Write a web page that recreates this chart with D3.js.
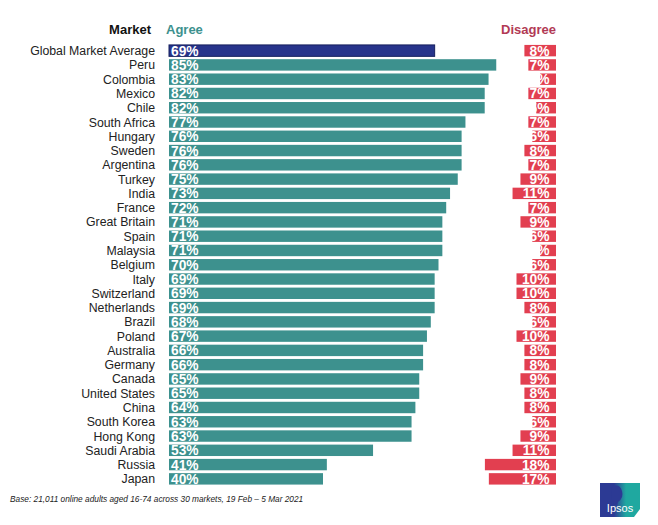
<!DOCTYPE html>
<html><head><meta charset="utf-8">
<script src="https://cdn.jsdelivr.net/npm/d3@7"></script>
<style>body{margin:0;background:#fff;}svg{display:block;font-family:Arial,"Liberation Sans",sans-serif;}</style>
</head><body>
<svg id="c" width="658" height="525"></svg>
<script>
const markets = ["Global Market Average","Peru","Colombia","Mexico","Chile","South Africa","Hungary","Sweden","Argentina","Turkey","India","France","Great Britain","Spain","Malaysia","Belgium","Italy","Switzerland","Netherlands","Brazil","Poland","Australia","Germany","Canada","United States","China","South Korea","Hong Kong","Saudi Arabia","Russia","Japan"];
const agree = [69,85,83,82,82,77,76,76,76,75,73,72,71,71,71,70,69,69,69,68,67,66,66,65,65,64,63,63,53,41,40];
const disagree = [8,7,4,7,5,7,6,8,7,9,11,7,9,6,4,6,10,10,8,6,10,8,8,9,8,8,6,9,11,18,17];

const svg = d3.select("#c");
const y = d3.scaleBand().domain(markets).range([43.5, 486]).paddingInner(0.2).paddingOuter(0.1);
const xA = d3.scaleLinear().domain([0,100]).range([169, 169+385]);
const xD = d3.scaleLinear().domain([0,100]).range([0, 395]);
const dRight = 556;
const teal = "#3d918e", navy = "#27348b", red = "#e23f50";

svg.append("text").attr("x",151).attr("y",34).attr("text-anchor","end").attr("font-weight","bold").attr("font-size",13).attr("fill","#111").text("Market");
svg.append("text").attr("x",166).attr("y",34).attr("font-weight","bold").attr("font-size",13).attr("fill","#3d918e").text("Agree");
svg.append("text").attr("x",556).attr("y",34).attr("text-anchor","end").attr("font-weight","bold").attr("font-size",13).attr("fill","#b23a55").text("Disagree");

const g = svg.append("g");
g.selectAll("text.m").data(markets).join("text").attr("class","m")
  .attr("x",155).attr("y",d=>y(d)+y.bandwidth()/2+4.5).attr("text-anchor","end")
  .attr("font-size",12.3).attr("fill","#222").text(d=>d);

g.selectAll("rect.a").data(agree).join("rect").attr("class","a")
  .attr("x",xA(0)).attr("y",(d,i)=>y(markets[i]))
  .attr("width",d=>xA(d)-xA(0)).attr("height",y.bandwidth())
  .attr("fill",(d,i)=>i===0?navy:teal)
  .attr("stroke",(d,i)=>i===0?"#17205e":"none").attr("stroke-width",1);
g.selectAll("text.a").data(agree).join("text").attr("class","a")
  .attr("x",xA(0)+2).attr("y",(d,i)=>y(markets[i])+y.bandwidth()/2+5)
  .attr("font-size",13.8).attr("font-weight","bold").attr("fill","#fff").text(d=>d+"%");

g.selectAll("rect.d").data(disagree).join("rect").attr("class","d")
  .attr("x",d=>dRight-xD(d)).attr("y",(d,i)=>y(markets[i]))
  .attr("width",d=>xD(d)).attr("height",y.bandwidth()).attr("fill",red);
g.selectAll("text.d").data(disagree).join("text").attr("class","d")
  .attr("x",549.5).attr("y",(d,i)=>y(markets[i])+y.bandwidth()/2+5).attr("text-anchor","end")
  .attr("font-size",13.8).attr("font-weight","bold").attr("fill","#fff").text(d=>d+"%");

svg.append("text").attr("x",10).attr("y",502).attr("font-size",8.3).attr("font-style","italic").attr("fill","#222")
  .text("Base: 21,011 online adults aged 16-74 across 30 markets,  19 Feb \u2013 5 Mar 2021");

// logo
const defs = svg.append("defs");
const lg = defs.append("linearGradient").attr("id","lg").attr("x1","0").attr("x2","1");
lg.append("stop").attr("offset","0.35").attr("stop-color","#2c3a94");
lg.append("stop").attr("offset","0.65").attr("stop-color","#1fa8a0");
svg.append("path").attr("d","M600,483 L640,483 L640,509 L634,517 L600,517 Z").attr("fill","url(#lg)");
svg.append("path").attr("d","M613,486 q7,-2 9,5 q2,7 -4,11 l-1,4 q-6,-4 -6,-11 q0,-7 2,-9 z").attr("fill","#2c3a94");
svg.append("text").attr("x",620).attr("y",512).attr("text-anchor","middle").attr("font-size",11).attr("fill","#fff").text("Ipsos");
</script>
</body></html>
